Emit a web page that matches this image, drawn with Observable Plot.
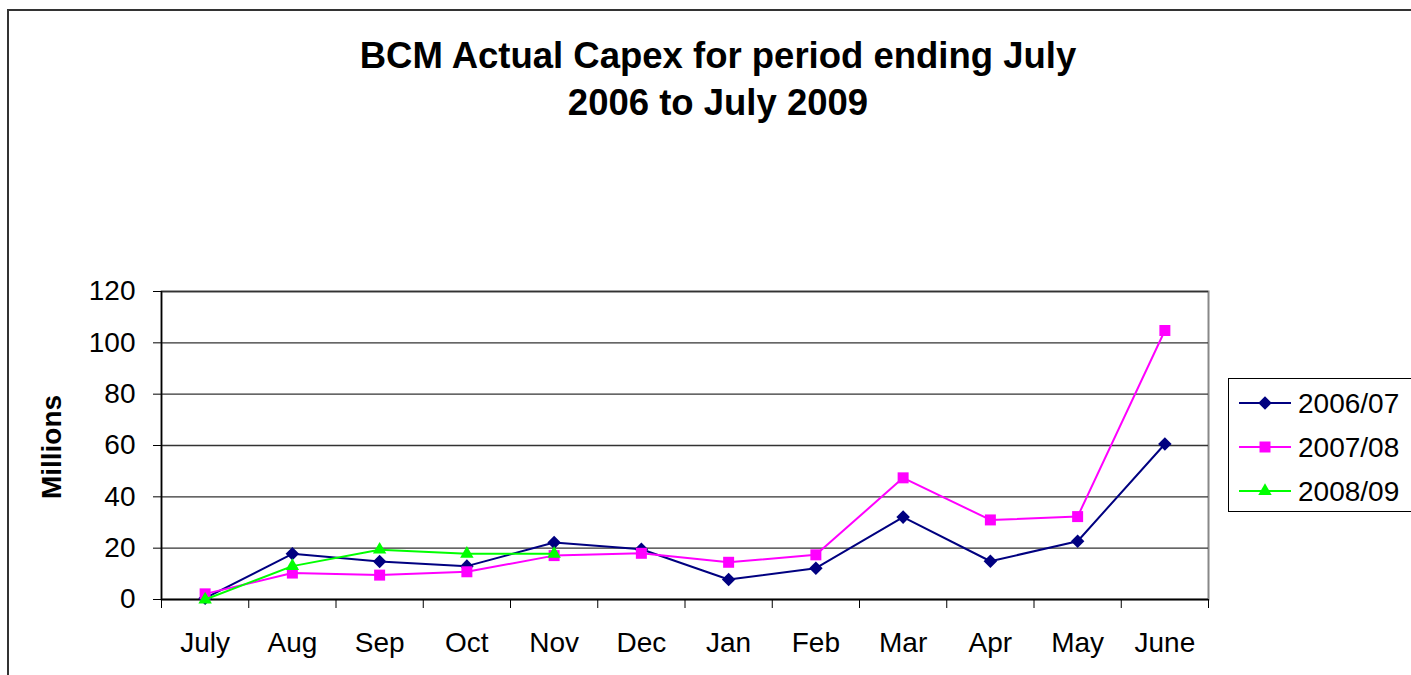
<!DOCTYPE html>
<html>
<head>
<meta charset="utf-8">
<script src="https://cdn.jsdelivr.net/npm/d3@7"></script>
<script src="https://cdn.jsdelivr.net/npm/@observablehq/plot@0.6"></script>
<style>
  html, body { margin: 0; padding: 0; background: #fff; }
  #wrap { position: relative; width: 1411px; height: 675px; overflow: hidden; background: #fff;
          font-family: "Liberation Sans", Arial, sans-serif; color: #000; }
  #outer { position: absolute; left: 7px; top: 9px; width: 1600px; height: 900px;
           border-left: 2px solid #333; border-top: 2px solid #333; }
  #title { position: absolute; left: 218px; top: 32px; width: 1000px; text-align: center;
           font-weight: bold; font-size: 36.5px; line-height: 47px; }
  #ylabel { position: absolute; left: 52px; top: 447px; transform: translate(-50%, -50%) rotate(-90deg);
            font-weight: bold; font-size: 28px; white-space: nowrap; }
  #chart { position: absolute; left: 0; top: 0; }
  #legend { position: absolute; left: 1228px; top: 378px; width: 260px; height: 132px;
            border: 1.5px solid #000; background: #fff; }
</style>
</head>
<body>
<div id="wrap">
  <div id="outer"></div>
  <div id="chart"></div>
  <div id="title">BCM Actual Capex for period ending July<br>2006 to July 2009</div>
  <div id="ylabel">Millions</div>
  <div id="legend"></div>
</div>
<script>
// ---- Data ----
const months = ["July", "Aug", "Sep", "Oct", "Nov", "Dec", "Jan", "Feb", "Mar", "Apr", "May", "June"];
const seriesNames = ["2006/07", "2007/08", "2008/09"];
const values0607 = [0.5, 17.8, 14.8, 13.0, 22.2, 19.6, 7.8, 12.2, 32.1, 14.9, 22.7, 60.6];
const values0708 = [2.2, 10.3, 9.5, 10.8, 17.1, 18.0, 14.5, 17.4, 47.4, 31.0, 32.3, 104.8];
const values0809 = [0, 13.0, 19.4, 17.8, 17.8];
const yTicks = [0, 20, 40, 60, 80, 100, 120];

const seriesColors = ["#000080", "#FF00FF", "#00FF00"];
const seriesStyle = [
  {symbol: "square", rotate: 45, r: 5.4},
  {symbol: "square", rotate: 0, r: 6.2},
  {symbol: "triangle", rotate: 0, r: 5.0}
];

const allValues = [values0607, values0708, values0809];
const table = allValues.map((vals, s) =>
  vals.map((v, i) => ({series: seriesNames[s], month: months[i], i, value: v}))
);

const xPos = d => d.i + 0.5;

const marks = [
  Plot.frame({stroke: "#888", strokeWidth: 2}),
  Plot.gridY({ticks: yTicks, stroke: "#333", strokeOpacity: 1, strokeWidth: 1.3}),
  Plot.axisY({ticks: yTicks, tickSize: 8, tickPadding: 18, fontSize: 28, stroke: "#000", label: null}),
  Plot.axisX({ticks: d3.range(12).map(i => i + 0.5), tickSize: 0, tickPadding: 33, fontSize: 28,
              tickFormat: d => months[Math.round(d - 0.5)], label: null}),
  Plot.axisX({ticks: d3.range(13), tickSize: 9, tickFormat: () => "", stroke: "#000", label: null}),
  Plot.ruleX([0], {stroke: "#000", strokeWidth: 1.5}),
  Plot.ruleY([0], {stroke: "#000", strokeWidth: 1.5})
];

table.forEach((rows, s) => {
  marks.push(Plot.line(rows, {x: xPos, y: "value", stroke: seriesColors[s], strokeWidth: 2}));
  marks.push(Plot.dot(rows, {x: xPos, y: "value", symbol: seriesStyle[s].symbol,
    rotate: seriesStyle[s].rotate, r: seriesStyle[s].r, fill: seriesColors[s], stroke: "none"}));
});

const chart = Plot.plot({
  width: 1411,
  height: 675,
  marginLeft: 161,
  marginRight: 203,
  marginTop: 291,
  marginBottom: 76,
  style: {fontFamily: "'Liberation Sans', Arial, sans-serif", fontSize: "28px", color: "#000", background: "transparent"},
  x: {type: "linear", domain: [0, 12]},
  y: {type: "linear", domain: [0, 120]},
  marks
});
document.getElementById("chart").appendChild(chart);

// ---- Legend ----
const symbolTypes = {square: d3.symbolSquare, triangle: d3.symbolTriangle};
const legend = d3.select("#legend").append("svg").attr("width", 260).attr("height", 132)
  .style("position", "absolute").style("left", "0").style("top", "0");
seriesNames.forEach((name, s) => {
  const cy = 24 + s * 44;
  legend.append("line").attr("x1", 10).attr("x2", 62).attr("y1", cy).attr("y2", cy)
    .attr("stroke", seriesColors[s]).attr("stroke-width", 2);
  const st = seriesStyle[s];
  legend.append("path")
    .attr("d", d3.symbol().type(symbolTypes[st.symbol]).size(st.r * st.r * Math.PI)())
    .attr("transform", `translate(36,${cy}) rotate(${st.rotate})`)
    .attr("fill", seriesColors[s]);
  legend.append("text").attr("x", 69).attr("y", cy).attr("dy", "0.35em")
    .attr("font-family", "'Liberation Sans', Arial, sans-serif").attr("font-size", 28)
    .text(name);
});
</script>
</body>
</html>
